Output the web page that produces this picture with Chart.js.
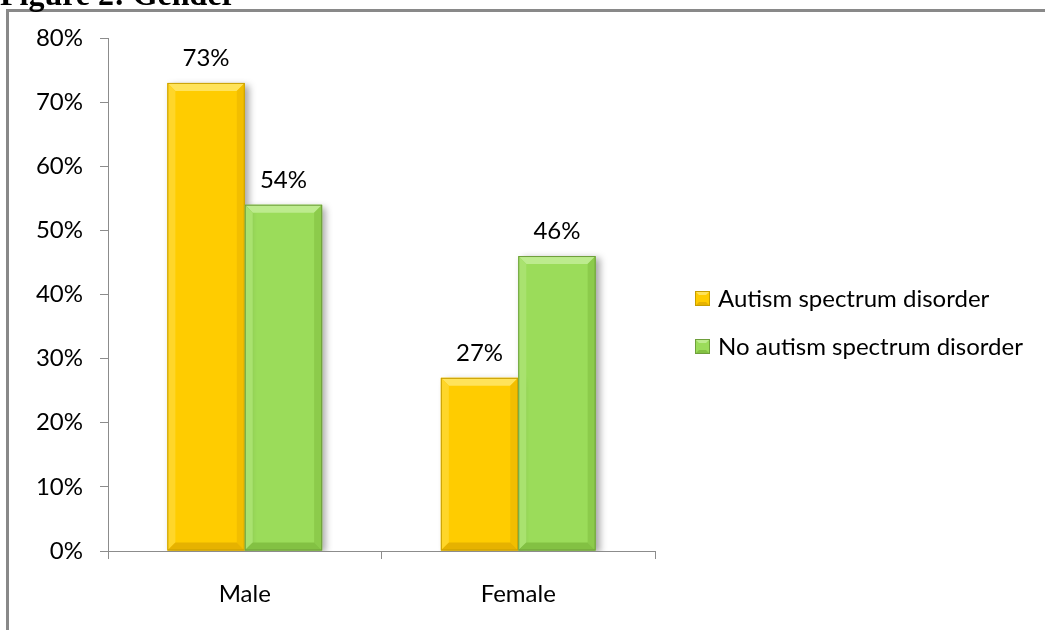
<!DOCTYPE html>
<html>
<head>
<meta charset="utf-8">
<script src="https://cdn.jsdelivr.net/npm/chart.js@4/dist/chart.umd.min.js"></script>
<style>
  html, body { margin: 0; padding: 0; background: #fff; }
  #wrap { width: 1045px; height: 630px; position: relative; }
</style>
</head>
<body>
<div id="wrap"><canvas id="chart" width="1045" height="630"></canvas></div>
<script>
// Gender split by group, in percent
const categories = ['Male', 'Female'];
const asdValues = [73, 27];
const noAsdValues = [54, 46];
const seriesNames = ['Autism spectrum disorder', 'No autism spectrum disorder'];
const yMax = 80;
const yStep = 10;
const figureTitle = 'Figure 2: Gender';

const FONT = 'Lato, "Open Sans", sans-serif';
const FONT_SIZE = 24;

// Bevel palettes for the two series
const palettes = [
  { base: '#FFCC00', top: '#FFE35A', left: '#FFD629', right: '#F2BE00', bottom: '#E6B200', edge: '#C79E00' },
  { base: '#9BDC5A', top: '#BDEB8E', left: '#A9E26F', right: '#8CCB4B', bottom: '#83C143', edge: '#6E9E3B' }
];

// Soft drop shadow under the bars
const barShadow = {
  id: 'barShadow',
  beforeDatasetsDraw(chart) {
    const ctx = chart.ctx;
    ctx.save();
    ctx.shadowColor = 'rgba(0,0,0,0.35)';
    ctx.shadowBlur = 7;
    ctx.shadowOffsetX = 4;
    ctx.shadowOffsetY = 2;
  },
  afterDatasetsDraw(chart) {
    chart.ctx.restore();
  }
};

function poly(ctx, pts, fill) {
  ctx.beginPath();
  ctx.moveTo(pts[0][0], pts[0][1]);
  for (let i = 1; i < pts.length; i++) ctx.lineTo(pts[i][0], pts[i][1]);
  ctx.closePath();
  ctx.fillStyle = fill;
  ctx.fill();
}

// Bevelled faces, value labels, frame, title and legend
const decorations = {
  id: 'decorations',
  afterDatasetsDraw(chart) {
    const ctx = chart.ctx;
    chart.data.datasets.forEach((ds, di) => {
      const p = palettes[di];
      chart.getDatasetMeta(di).data.forEach((bar, i) => {
        const l = bar.x - bar.width / 2, r = bar.x + bar.width / 2;
        const t = bar.y, b = bar.base;
        const bv = Math.min(8, (b - t) / 2);
        ctx.save();
        poly(ctx, [[l, t], [r, t], [r - bv, t + bv], [l + bv, t + bv]], p.top);
        poly(ctx, [[l, t], [l + bv, t + bv], [l + bv, b - bv], [l, b]], p.left);
        poly(ctx, [[r, t], [r - bv, t + bv], [r - bv, b - bv], [r, b]], p.right);
        poly(ctx, [[l, b], [l + bv, b - bv], [r - bv, b - bv], [r, b]], p.bottom);
        ctx.strokeStyle = p.edge;
        ctx.lineWidth = 1;
        ctx.strokeRect(l + 0.5, t + 0.5, r - l - 1, b - t - 1);
        ctx.restore();

        // value label above the bar
        ctx.save();
        ctx.font = FONT_SIZE + 'px ' + FONT;
        ctx.fillStyle = '#000';
        ctx.textAlign = 'center';
        ctx.textBaseline = 'alphabetic';
        ctx.fillText(ds.data[i] + '%', bar.x, t - 17);
        ctx.restore();
      });
    });
  },
  afterDraw(chart) {
    const ctx = chart.ctx;
    ctx.save();
    // outer frame (left and top edges)
    ctx.strokeStyle = '#898989';
    ctx.lineWidth = 3;
    ctx.beginPath();
    ctx.moveTo(7.5, 640);
    ctx.lineTo(7.5, 10.5);
    ctx.lineTo(1050, 10.5);
    ctx.stroke();

    // figure caption, sitting above the frame
    ctx.font = 'bold 32px "Liberation Serif", "DejaVu Serif", serif';
    ctx.fillStyle = '#000';
    ctx.textAlign = 'left';
    ctx.textBaseline = 'alphabetic';
    ctx.fillText(figureTitle, 0, 5);

    // legend
    const lx = 695, ly = 291, gap = 48, box = 15;
    chart.data.datasets.forEach((ds, di) => {
      const p = palettes[di];
      const y = ly + di * gap;
      const bv = 4;
      ctx.fillStyle = p.base;
      ctx.fillRect(lx, y, box, box);
      poly(ctx, [[lx, y], [lx + box, y], [lx + box - bv, y + bv], [lx + bv, y + bv]], p.top);
      poly(ctx, [[lx, y + box], [lx + bv, y + box - bv], [lx + box - bv, y + box - bv], [lx + box, y + box]], p.bottom);
      ctx.strokeStyle = p.edge;
      ctx.lineWidth = 1;
      ctx.strokeRect(lx + 0.5, y + 0.5, box - 1, box - 1);
      ctx.font = FONT_SIZE + 'px ' + FONT;
      ctx.fillStyle = '#000';
      ctx.fillText(ds.label, lx + 23, y + 16);
    });
    ctx.restore();
  }
};

new Chart(document.getElementById('chart'), {
  type: 'bar',
  data: {
    labels: categories,
    datasets: [
      { label: seriesNames[0], data: asdValues, backgroundColor: palettes[0].base, borderWidth: 0 },
      { label: seriesNames[1], data: noAsdValues, backgroundColor: palettes[1].base, borderWidth: 0 }
    ]
  },
  options: {
    responsive: false,
    animation: false,
    devicePixelRatio: 1,
    layout: { padding: { top: 38, right: 390, left: 0, bottom: 0 } },
    datasets: { bar: { categoryPercentage: 0.566, barPercentage: 1 } },
    plugins: {
      legend: { display: false },
      tooltip: { enabled: false },
      title: { display: false }
    },
    scales: {
      x: {
        grid: { drawOnChartArea: false, drawTicks: true, tickLength: 8, color: '#8c8c8c', offset: true },
        border: { color: '#8c8c8c', width: 1 },
        ticks: { color: '#000', font: { family: FONT, size: FONT_SIZE }, padding: 21 },
        afterFit(s) { s.height = 79; }
      },
      y: {
        min: 0,
        max: yMax,
        grid: { drawOnChartArea: false, drawTicks: true, tickLength: 8, color: '#8c8c8c' },
        border: { color: '#8c8c8c', width: 1 },
        ticks: {
          stepSize: yStep,
          color: '#000',
          font: { family: FONT, size: FONT_SIZE },
          padding: 17,
          callback: v => v + '%'
        },
        afterFit(s) { s.width = 108; }
      }
    }
  },
  plugins: [barShadow, decorations]
});
</script>
</body>
</html>
